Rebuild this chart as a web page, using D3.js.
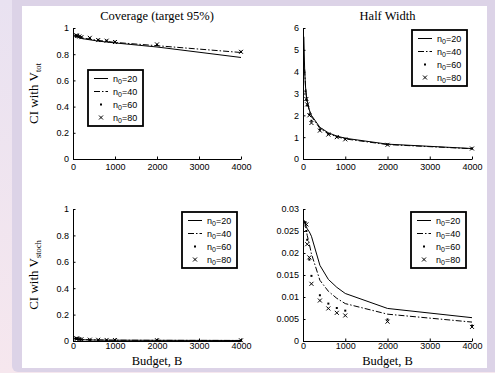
<!DOCTYPE html>
<html>
<head>
<meta charset="utf-8">
<script src="https://cdn.jsdelivr.net/npm/d3@7"></script>
<style>
  body { margin: 0; background: #ffffff; }
  svg text { fill: #000; }
</style>
</head>
<body>
<svg id="fig" width="495" height="373"></svg>
<script>
// budgets B used in the runs, and the initial sample sizes n0
const budgets = [20, 40, 60, 80, 100, 150, 200, 400, 600, 800, 1000, 2000, 4000];
const n0Values = [20, 40, 60, 80];

// coverage of the CI built with V_tot (one row per n0, null where B < n0)
const coverageTot = [
  [0.94, 0.94, 0.935, 0.93, 0.93, 0.925, 0.92, 0.91, 0.90, 0.893, 0.886, 0.855, 0.775],
  [null, 0.94, 0.94, 0.935, 0.935, 0.93, 0.925, 0.915, 0.905, 0.898, 0.89, 0.865, 0.813],
  [null, null, 0.945, 0.94, 0.94, 0.935, 0.93, 0.922, 0.91, 0.903, 0.895, 0.87, 0.818],
  [null, null, null, 0.945, 0.94, 0.935, 0.93, 0.925, 0.908, 0.903, 0.893, 0.875, 0.818]
];
// half width of the CI built with V_tot
const halfWidthTot = [
  [5.6, 4.0, 3.3, 2.9, 2.65, 2.25, 2.0, 1.45, 1.2, 1.05, 0.95, 0.68, 0.48],
  [null, 4.1, 3.3, 2.85, 2.6, 2.2, 1.95, 1.4, 1.16, 1.02, 0.92, 0.66, 0.47],
  [null, null, 3.1, 2.7, 2.45, 2.05, 1.75, 1.35, 1.15, 1.02, 0.93, 0.67, 0.48],
  [null, null, null, 2.75, 2.5, 2.0, 1.65, 1.3, 1.12, 1.0, 0.9, 0.65, 0.48]
];
// coverage of the CI built with V_stoch
const coverageStoch = [
  [0.02, 0.018, 0.016, 0.014, 0.013, 0.011, 0.01, 0.008, 0.007, 0.006, 0.006, 0.005, 0.004],
  [null, 0.02, 0.018, 0.016, 0.015, 0.012, 0.011, 0.009, 0.008, 0.007, 0.006, 0.005, 0.004],
  [null, null, 0.02, 0.018, 0.016, 0.013, 0.012, 0.009, 0.008, 0.007, 0.007, 0.005, 0.004],
  [null, null, null, 0.02, 0.018, 0.015, 0.013, 0.01, 0.009, 0.008, 0.007, 0.006, 0.005]
];
// half width of the CI built with V_stoch
const halfWidthStoch = [
  [0.0275, 0.027, 0.0265, 0.026, 0.0255, 0.0248, 0.0238, 0.0172, 0.014, 0.0122, 0.0108, 0.0074, 0.0053],
  [null, 0.027, 0.026, 0.025, 0.024, 0.022, 0.0198, 0.0138, 0.0113, 0.0097, 0.0085, 0.0061, 0.0043],
  [null, null, 0.027, 0.025, 0.023, 0.0185, 0.0148, 0.0104, 0.0085, 0.0075, 0.0069, 0.0049, 0.0035],
  [null, null, null, 0.0265, 0.022, 0.019, 0.013, 0.0092, 0.0074, 0.0064, 0.0058, 0.0044, 0.0032]
];

// tick labels
const budgetTicks = [0, 1000, 2000, 3000, 4000];
const coverageTicks = [0, 0.2, 0.4, 0.6, 0.8, 1];
const halfTotTicks = [0, 1, 2, 3, 4, 5, 6];
const halfStochTicks = [0, 0.005, 0.01, 0.015, 0.02, 0.025, 0.03];

const svg = d3.select("#fig");
const sansFont = "'Liberation Sans', Arial, Helvetica, sans-serif";
const serifFont = "'Liberation Serif', 'Times New Roman', serif";

// page background: light strip on the left, lavender frame, white figure
const grad = svg.append("defs").append("linearGradient")
  .attr("id", "strip").attr("x1", 0).attr("y1", 0).attr("x2", 0).attr("y2", 1);
grad.append("stop").attr("offset", "0%").attr("stop-color", "#e9e2f1");
grad.append("stop").attr("offset", "100%").attr("stop-color", "#f6e7ee");
svg.append("rect").attr("width", 495).attr("height", 373).attr("fill", "url(#strip)");
svg.append("rect").attr("x", 12).attr("y", -10).attr("width", 495).attr("height", 382)
  .attr("rx", 6).attr("fill", "#dcd3e7");
svg.append("rect").attr("x", 22).attr("y", 6).attr("width", 465).attr("height", 362)
  .attr("fill", "#ffffff");

function xMark(sel, s) {
  return sel.attr("d", `M${-s},${-s}L${s},${s}M${-s},${s}L${s},${-s}`)
    .attr("stroke", "#000").attr("stroke-width", 1).attr("fill", "none");
}

function drawSeries(g, rows, x, y) {
  rows.forEach(function(vals, i) {
    const pts = budgets.map(function(b, j) { return [b, vals[j]]; })
      .filter(function(d) { return d[1] !== null; });
    if (i < 2) {
      const line = d3.line().x(function(d) { return x(d[0]); }).y(function(d) { return y(d[1]); });
      g.append("path").datum(pts).attr("d", line)
        .attr("fill", "none").attr("stroke", "#000").attr("stroke-width", 1)
        .attr("stroke-dasharray", i === 1 ? "6,2,1.5,2" : null);
    } else if (i === 2) {
      g.selectAll(null).data(pts).enter().append("rect")
        .attr("x", function(d) { return x(d[0]) - 1; })
        .attr("y", function(d) { return y(d[1]) - 1; })
        .attr("width", 2).attr("height", 2).attr("fill", "#000");
    } else {
      g.selectAll(null).data(pts).enter().append("path")
        .attr("transform", function(d) { return "translate(" + x(d[0]) + "," + y(d[1]) + ")"; })
        .call(xMark, 2);
    }
  });
}

function drawLegend(lx, ly) {
  const lg = svg.append("g").attr("transform", "translate(" + lx + "," + ly + ")");
  lg.append("rect").attr("width", 55).attr("height", 56)
    .attr("fill", "#fff").attr("stroke", "#000").attr("stroke-width", 1.8);
  n0Values.forEach(function(n, i) {
    const cy = 8.5 + i * 13;
    if (i < 2) {
      lg.append("line").attr("x1", 6).attr("x2", 20).attr("y1", cy).attr("y2", cy)
        .attr("stroke", "#000").attr("stroke-width", 1)
        .attr("stroke-dasharray", i === 1 ? "6,2,1.5,2" : null);
    } else if (i === 2) {
      lg.append("rect").attr("x", 12).attr("y", cy - 1).attr("width", 2).attr("height", 2).attr("fill", "#000");
    } else {
      lg.append("path").attr("transform", "translate(13," + cy + ")").call(xMark, 2);
    }
    const t = lg.append("text").attr("x", 25).attr("y", cy + 3)
      .style("font-family", sansFont).style("font-size", "9px");
    t.append("tspan").text("n");
    t.append("tspan").attr("dy", 2.5).style("font-size", "7px").text("0");
    t.append("tspan").attr("dy", -2.5).text("=" + n);
  });
}

function panel(p) {
  const x = d3.scaleLinear().domain([0, 4000]).range([p.left, p.right]);
  const y = d3.scaleLinear().domain([0, p.yTicks[p.yTicks.length - 1]]).range([p.bottom, p.top]);
  const g = svg.append("g");

  const ax = g.append("g").attr("transform", "translate(0," + p.bottom + ")")
    .call(d3.axisBottom(x).tickValues(budgetTicks).tickSizeInner(-2.5).tickSizeOuter(0)
      .tickPadding(p.xlabel ? 2 : 4.5).tickFormat(d3.format("d")));
  const ay = g.append("g").attr("transform", "translate(" + p.left + ",0)")
    .call(d3.axisLeft(y).tickValues(p.yTicks).tickSizeInner(-2.5).tickSizeOuter(0)
      .tickPadding(4).tickFormat(function(d) { return String(+d.toFixed(4)); }));
  [ax, ay].forEach(function(a) {
    a.attr("font-family", sansFont).attr("font-size", 9);
    a.selectAll("path, line").attr("stroke", "#000").attr("stroke-width", 1);
  });

  drawSeries(g, p.rows, x, y);

  if (p.title) {
    g.append("text").attr("x", (p.left + p.right) / 2).attr("y", 20).attr("text-anchor", "middle")
      .style("font-family", serifFont).style("font-size", "12.5px").text(p.title);
  }
  if (p.ylabel) {
    const t = g.append("text")
      .attr("transform", "translate(38," + ((p.top + p.bottom) / 2) + ") rotate(-90)")
      .attr("text-anchor", "middle")
      .style("font-family", serifFont).style("font-size", "13px");
    t.append("tspan").text("CI with V");
    t.append("tspan").attr("dy", 3).style("font-size", "8.5px").text(p.ylabel);
  }
  if (p.xlabel) {
    g.append("text").attr("x", (p.left + p.right) / 2).attr("y", 365).attr("text-anchor", "middle")
      .style("font-family", serifFont).style("font-size", "12.5px").text("Budget, B");
  }
  drawLegend(p.legend[0], p.legend[1]);
}

panel({ left: 73, right: 241, top: 28, bottom: 159, yTicks: coverageTicks, rows: coverageTot,
  title: "Coverage (target 95%)", ylabel: "tot", legend: [88, 70] });
panel({ left: 303, right: 472, top: 28, bottom: 159, yTicks: halfTotTicks, rows: halfWidthTot,
  title: "Half Width", legend: [412, 30] });
panel({ left: 73, right: 241, top: 209, bottom: 341, yTicks: coverageTicks, rows: coverageStoch,
  ylabel: "stoch", xlabel: true, legend: [182, 212] });
panel({ left: 303, right: 472, top: 209, bottom: 341, yTicks: halfStochTicks, rows: halfWidthStoch,
  xlabel: true, legend: [411, 212] });
</script>
</body>
</html>
